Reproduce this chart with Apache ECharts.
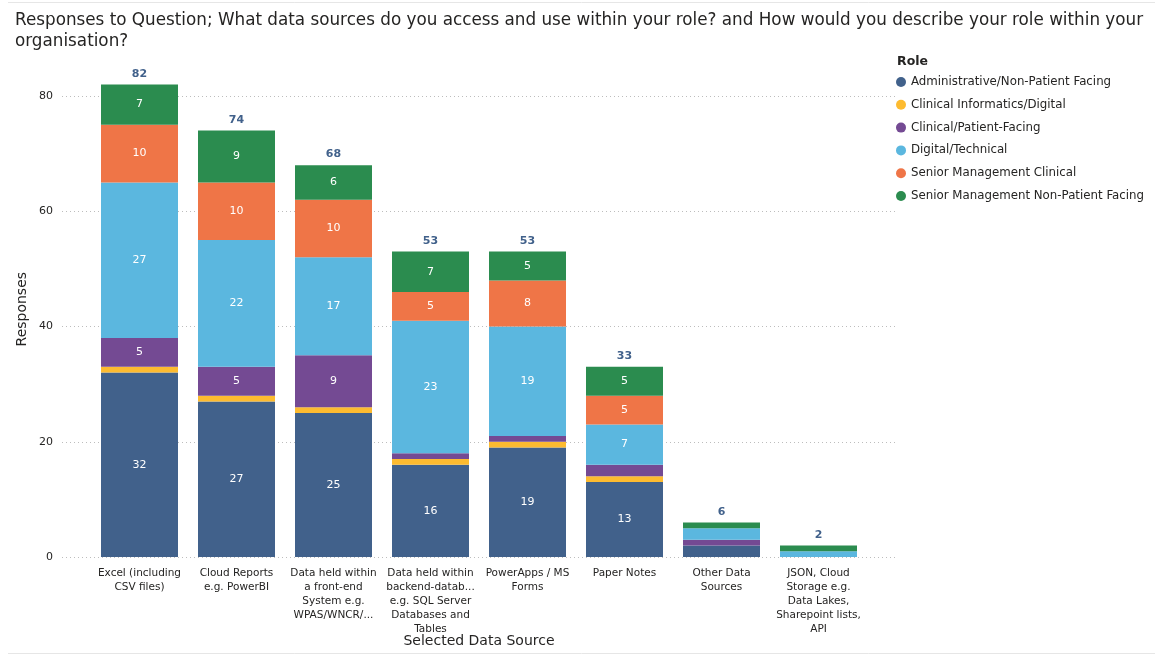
<!DOCTYPE html>
<html>
<head>
<meta charset="utf-8">
<script src="https://cdn.jsdelivr.net/npm/echarts@6/dist/echarts.min.js"></script>
<style>
  html, body { margin: 0; padding: 0; background: #fff; }
  #chart { width: 1155px; height: 656px; }
</style>
</head>
<body>
<div id="chart"></div>
<script>
// Data sources (x categories), wrapped as shown under each bar
const categories = [
  'Excel (including\nCSV files)',
  'Cloud Reports\ne.g. PowerBI',
  'Data held within\na front-end\nSystem e.g.\nWPAS/WNCR/...',
  'Data held within\nbackend-datab...\ne.g. SQL Server\nDatabases and\nTables',
  'PowerApps / MS\nForms',
  'Paper Notes',
  'Other Data\nSources',
  'JSON, Cloud\nStorage e.g.\nData Lakes,\nSharepoint lists,\nAPI'
];

// Responses per role, in category order
const administrative   = [32, 27, 25, 16, 19, 13, 2, 0];
const clinicalInformatics = [1, 1, 1, 1, 1, 1, 0, 0];
const clinicalPatient  = [5, 5, 9, 1, 1, 2, 1, 0];
const digitalTechnical = [27, 22, 17, 23, 19, 7, 2, 1];
const seniorClinical   = [10, 10, 10, 5, 8, 5, 0, 0];
const seniorNonPatient = [7, 9, 6, 7, 5, 5, 1, 1];

const roleNames = [
  'Administrative/Non-Patient Facing',
  'Clinical Informatics/Digital',
  'Clinical/Patient-Facing',
  'Digital/Technical',
  'Senior Management Clinical',
  'Senior Management Non-Patient Facing'
];
const roleValues = [administrative, clinicalInformatics, clinicalPatient,
                    digitalTechnical, seniorClinical, seniorNonPatient];
const roleColors = ['#41618B', '#FDBB30', '#744A93', '#5BB7DF', '#EF7547', '#2B8C4F'];

const yTicks = [0, 20, 40, 60, 80];

const totals = categories.map((_, i) => roleValues.reduce((s, arr) => s + arr[i], 0));

const FONT = 'DejaVu Sans, Verdana, sans-serif';
const chart = echarts.init(document.getElementById('chart'), null, { renderer: 'canvas' });

const segmentSeries = roleNames.map((name, k) => ({
  name: name,
  type: 'bar',
  stack: 'responses',
  xAxisIndex: 0,
  yAxisIndex: 0,
  barWidth: 77,
  data: roleValues[k],
  itemStyle: { color: roleColors[k] },
  label: {
    show: true,
    position: 'inside',
    color: '#ffffff',
    fontFamily: FONT,
    fontSize: 11,
    formatter: p => (p.value >= 5 ? String(p.value) : '')
  },
  emphasis: { disabled: true }
}));

// zero-height cap on each stack carrying the total above the bar
const totalSeries = {
  name: 'Total',
  type: 'bar',
  stack: 'responses',
  xAxisIndex: 0,
  yAxisIndex: 0,
  barWidth: 77,
  data: totals.map(() => 0),
  itemStyle: { color: 'transparent' },
  label: {
    show: true,
    position: 'top',
    distance: 5,
    color: '#41618B',
    fontFamily: FONT,
    fontWeight: 'bold',
    fontSize: 11,
    formatter: p => String(totals[p.dataIndex])
  },
  silent: true
};

const option = {
  animation: false,
  backgroundColor: '#ffffff',
  title: [
    {
      text: 'Responses to Question; What data sources do you access and use within your role? and How would you describe your role within your\norganisation?',
      left: 10,
      top: 5,
      textStyle: { fontFamily: FONT, fontSize: 16.8, fontWeight: 'normal', color: '#252423', lineHeight: 21 }
    },
    {
      text: 'Role',
      left: 892,
      top: 50,
      textStyle: { fontFamily: FONT, fontSize: 12.5, fontWeight: 'bold', color: '#252423' }
    }
  ],
  legend: {
    data: roleNames,
    orient: 'vertical',
    left: 891,
    top: 70,
    icon: 'circle',
    itemWidth: 10,
    itemHeight: 10,
    itemGap: 8.8,
    textStyle: { fontFamily: FONT, fontSize: 11.8, color: '#252423', lineHeight: 14 },
    selectedMode: false
  },
  grid: [
    // bars
    { left: 91, right: 288, top: 61.4, bottom: 99, outerBoundsMode: 'none', containLabel: false },
    // value gridlines behind the bars
    { left: 62, right: 260, top: 96, bottom: 99, outerBoundsMode: 'none', containLabel: false }
  ],
  xAxis: [
    {
      type: 'category',
      gridIndex: 0,
      data: categories,
      axisLine: { show: false },
      axisTick: { show: false },
      axisLabel: {
        interval: 0,
        margin: 9,
        fontFamily: FONT,
        fontSize: 10.5,
        lineHeight: 14,
        color: '#252423'
      },
      name: 'Selected Data Source',
      nameLocation: 'middle',
      nameGap: 77,
      nameMoveOverlap: false,
      nameTextStyle: { fontFamily: FONT, fontSize: 14, color: '#252423' }
    },
    {
      type: 'value',
      gridIndex: 1,
      show: false,
      min: 0,
      max: 1
    }
  ],
  yAxis: [
    {
      type: 'value',
      gridIndex: 0,
      min: 0,
      max: 86,
      axisLine: { show: false },
      axisTick: { show: false },
      axisLabel: { show: false },
      splitLine: { show: false },
      name: 'Responses',
      nameLocation: 'middle',
      nameGap: 62,
      nameMoveOverlap: false,
      nameTextStyle: { fontFamily: FONT, fontSize: 14, color: '#252423' }
    },
    {
      type: 'value',
      gridIndex: 1,
      min: yTicks[0],
      max: yTicks[yTicks.length - 1],
      interval: 20,
      axisLine: { show: false },
      axisTick: { show: false },
      axisLabel: {
        margin: 9,
        fontFamily: FONT,
        fontSize: 11,
        color: '#252423'
      },
      splitLine: { show: true, lineStyle: { type: [1, 3], color: '#BDBDBD', width: 1 } }
    }
  ],
  graphic: [
    { type: 'line', shape: { x1: 8, y1: 2.5, x2: 1155, y2: 2.5 }, style: { stroke: '#E6E6E6', lineWidth: 1 }, silent: true },
    { type: 'line', shape: { x1: 8, y1: 653.5, x2: 1155, y2: 653.5 }, style: { stroke: '#E6E6E6', lineWidth: 1 }, silent: true }
  ],
  series: [
    // empty series that places the gridline grid in the layout
    { type: 'line', xAxisIndex: 1, yAxisIndex: 1, data: [], silent: true },
    ...segmentSeries,
    totalSeries
  ]
};

chart.setOption(option);
</script>
</body>
</html>
